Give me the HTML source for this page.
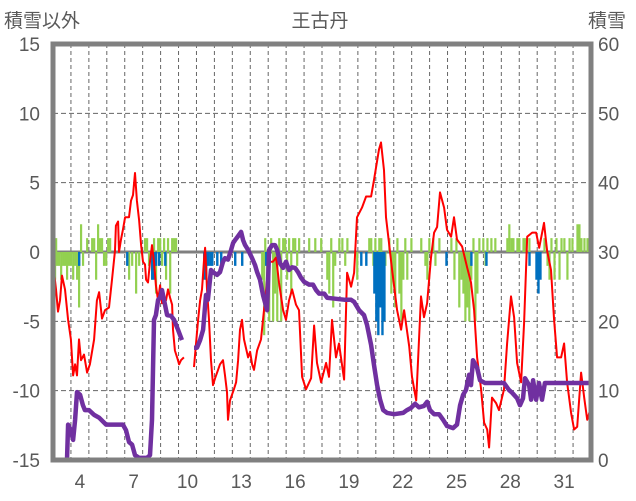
<!DOCTYPE html>
<html><head><meta charset="utf-8"><style>
html,body{margin:0;padding:0;background:#fff;}
svg{display:block;font-family:"Liberation Sans","Noto Sans CJK JP",sans-serif;}
</style></head><body>
<svg id="chart" width="636" height="501" viewBox="0 0 636 501" xmlns="http://www.w3.org/2000/svg">
<text x="320" y="27" font-size="19" fill="#595959" text-anchor="middle" font-family="Liberation Sans, Noto Sans CJK JP, sans-serif">王古丹</text>
<text x="4" y="27" font-size="19" fill="#595959" font-family="Liberation Sans, Noto Sans CJK JP, sans-serif">積雪以外</text>
<text x="588" y="27" font-size="19" fill="#595959" font-family="Liberation Sans, Noto Sans CJK JP, sans-serif">積雪</text>
<g id="grid"></g><g id="bars"></g><g id="lines"></g>
<rect x="53" y="44" width="538" height="416" fill="none" stroke="#808080" stroke-width="5"/>
<g id="labels"></g>
</svg>
<script>
const xTickDays=[4,7,10,13,16,19,22,25,28,31];
const leftTicks=[15,10,5,0,-5,-10,-15];
const rightTicks=[60,50,40,30,20,10,0];
const tempT=[3.00,3.17,3.28,3.39,3.50,3.67,3.84,4.00,4.12,4.23,4.34,4.45,4.56,4.73,4.90,5.06,5.29,5.45,5.57,5.73,5.90,6.12,6.29,6.46,6.51,6.63,6.68,6.79,6.90,7.02,7.24,7.35,7.46,7.57,7.68,7.80,7.91,8.02,8.13,8.19,8.30,8.41,8.52,8.63,8.74,8.86,8.97,9.08,9.19,9.30,9.41,9.53,9.64,9.69,9.80,9.92,10.03,10.14,10.30,10.6,10.86,10.97,11.09,11.20,11.31,11.42,11.48,11.53,11.59,11.70,11.81,11.92,12.04,12.15,12.31,12.48,12.59,12.70,12.76,12.87,13.09,13.21,13.32,13.43,13.54,13.65,13.88,13.99,14.10,14.21,14.38,14.60,14.71,14.82,14.94,15.05,15.27,15.44,15.60,15.83,15.99,16.16,16.33,16.55,16.72,16.89,17.11,17.39,17.56,17.72,17.95,18.23,18.39,18.56,18.78,18.95,19.23,19.40,19.62,19.79,19.95,20.23,20.46,20.74,20.90,21.18,21.29,21.46,21.57,21.74,21.91,22.19,22.41,22.58,22.86,23.02,23.25,23.52,23.69,23.86,24.08,24.25,24.42,24.58,24.81,24.97,25.20,25.36,25.53,25.81,26.09,26.31,26.48,26.65,26.87,27.04,27.21,27.32,27.48,27.71,27.87,28.15,28.32,28.54,28.71,28.88,29.10,29.27,29.44,29.72,29.94,30.11,30.38,30.55,30.77,30.94,31.11,31.33,31.50,31.67,31.89,32.06,32.23,32.45,32.62,32.79,32.95];
const tempV=[-0.8,-2.7,-4.3,-3.5,-1.7,-2.7,-4.9,-6.3,-8.9,-8.1,-8.9,-6.3,-7.8,-7.4,-8.7,-8.1,-6.3,-3.5,-2.9,-4.8,-4.2,-4.0,-2.0,0.1,1.9,2.2,0,0.9,1.6,2.5,2.5,3.7,4.1,5.7,3.7,2.3,0.5,-0.7,-0.9,-2.0,-2.2,-0.7,0.5,-0.7,-2.4,-3.5,-2.4,-3.7,-3.2,-3.5,-2.7,-3.3,-3.8,-5.6,-7.1,-7.6,-8.1,-7.8,-7.6,null,-8.3,-6.7,-4.9,-3.5,-2.7,-0.6,0.3,-0.9,-2.7,-4.9,-7.8,-9.6,-9.1,-8.7,-8.1,-7.8,-8.9,-10.1,-12.1,-10.7,-9.9,-9.4,-7.8,-5.6,-4.9,-6.3,-7.6,-7.2,-8.1,-8.5,-7.1,-6.3,-4.9,-3.5,-2.0,-0.7,-0.7,-0.4,-2.2,-4.2,-4.9,-3.5,-2.7,-3.8,-4.2,-9.0,-9.9,-9.1,-5.3,-8.0,-9.4,-8.0,-9.0,-4.9,-7.6,-6.6,-9.2,-1.5,-2.5,-1.5,2.5,3.2,4.0,4.0,5.2,7.4,7.9,5.9,2.5,0.6,-1.3,-4.2,-5.6,-4.2,-6.8,-9.0,-10.7,-3.2,-4.7,-3.7,-0.4,1.4,1.8,4.3,3.2,1.6,1.1,2.5,0.9,0.4,-1.1,-2.2,-4.2,-7.6,-9.9,-12.3,-12.8,-14.1,-10.5,-10.9,-11.4,-9.9,-6.6,-3.2,-4.7,-8.0,-9.4,-5.1,1.1,1.4,1.4,0.3,2.1,0.1,-1.3,-4.9,-7.6,-7.6,-6.6,-9.4,-11.6,-12.8,-12.6,-8.7,-10.5,-12.1,-11.4];
const snowT=[3.00,3.78,3.84,4.00,4.12,4.23,4.34,4.51,4.67,4.78,5.01,5.29,5.57,5.96,6.90,7.07,7.24,7.41,7.57,7.80,8.24,8.41,8.52,8.63,8.74,8.86,8.97,9.08,9.19,9.36,9.58,9.75,9.86,9.97,10.19,10.5,10.86,11.03,11.20,11.37,11.53,11.64,11.81,11.92,12.15,12.31,12.48,12.59,12.76,12.93,13.04,13.15,13.32,13.49,13.60,13.71,13.88,14.10,14.27,14.38,14.54,14.71,14.94,15.05,15.22,15.38,15.50,15.66,15.83,15.99,16.16,16.33,16.50,16.66,16.83,17.00,17.28,17.50,17.67,17.84,18.12,18.29,19.29,19.62,19.79,20.07,20.34,20.51,20.74,20.90,21.07,21.24,21.41,21.63,22.02,22.52,22.74,22.96,23.19,23.41,23.69,23.86,24.02,24.25,24.53,24.75,24.97,25.31,25.53,25.70,25.87,26.03,26.20,26.31,26.42,26.65,26.81,27.09,28.15,28.43,28.60,28.88,29.04,29.21,29.32,29.55,29.66,29.77,29.94,30.10,30.27,30.43,32.95];
const snowV=[0,0,5.1,4.3,2.9,5.8,9.8,9.4,7.9,7.2,7.2,6.5,6.1,5.1,5.1,4.3,2.6,2.2,0.7,0.3,0.3,0.7,5.8,20.2,20.9,23.1,23.4,24.5,23.1,20.9,20.8,20.2,19.5,18.8,17.3,null,16.2,16.2,17.3,18.8,23.8,23.1,27.4,27.1,26.7,27.1,28.6,29.1,28.9,30.3,31.3,31.7,32.3,32.9,31.7,31.0,30.3,29.1,28.1,27.1,26.0,23.8,21.6,30.3,31.0,31.0,30.3,28.4,27.7,28.6,27.4,27.8,27.7,27.1,26.3,25.7,25.3,25.3,24.5,24.0,24.0,23.4,23.1,23.1,22.8,21.6,20.9,19.5,16.6,13.7,10.8,8.7,7.2,6.8,6.6,6.8,7.2,7.5,8.1,7.6,7.8,8.4,7.2,6.6,6.6,5.8,4.9,4.6,5.1,7.9,9.4,10.1,12.3,10.8,14.4,13.3,11.5,11.1,11.1,10.1,9.7,8.9,7.9,8.9,11.8,10.8,8.7,11.5,8.7,11.1,8.7,11.1,11.1];
const greenT=[3.00,3.11,3.17,3.22,3.33,3.45,3.56,3.67,3.78,3.89,4.00,4.12,4.23,4.34,4.45,4.56,4.67,4.90,5.18,5.29,5.40,5.51,5.62,5.73,5.84,5.96,6.07,6.18,7.24,7.41,7.63,7.80,8.13,8.24,8.35,8.52,8.63,8.74,8.86,8.97,9.08,9.19,9.30,9.41,9.53,9.64,9.75,9.86,14.66,14.77,14.83,14.94,15.05,15.16,15.27,15.38,15.50,15.61,15.72,15.83,15.94,16.05,16.16,16.28,16.39,16.50,16.61,16.72,17.28,17.62,17.95,18.29,18.40,18.51,18.62,18.73,18.96,19.13,19.29,19.41,19.96,20.63,20.74,20.86,20.97,21.08,21.19,21.30,21.41,21.53,21.75,21.86,21.97,22.08,22.20,22.31,22.42,22.53,22.64,22.75,22.98,23.53,23.76,23.87,23.98,24.20,24.32,24.54,25.21,25.38,25.49,25.65,25.77,25.88,25.99,26.10,26.21,26.32,26.44,26.55,26.66,26.77,26.99,27.11,27.22,27.44,27.66,28.33,28.44,28.56,28.67,28.89,29.00,29.23,29.34,29.56,30.40,30.57,30.68,30.79,30.96,31.07,31.24,31.35,31.51,31.68,31.80,31.96,32.24,32.35,32.46,32.63,32.80];
const greenV=[-2,-2,1,-1,-1,-2,-1,-1,-2,-1,-1,-2,-1,-2,-4,2,-1,1,1,1,-2,2,1,1,-1,-1,1,1,-2,-1,-3,-1,1,1,-1,-2,1,-3,1,1,-1,1,-2,1,-3,1,1,1,-2,-6,1,-4,-5,1,-5,-3,-5,1,-5,1,1,-2,1,-3,1,1,-1,1,1,1,1,-2,-3,1,-4,-1,1,1,-1,1,-2,1,1,-1,1,-1,1,1,-2,-1,1,-3,-2,-4,1,-3,-5,-2,1,-2,1,1,-1,-2,1,1,-1,1,1,-2,1,-4,-2,-3,-5,-4,-5,-2,1,-5,-3,1,1,-1,1,1,1,1,2,1,1,1,1,1,1,1,1,-1,-2,1,-2,1,-2,1,1,-2,1,1,2,2,1,1,1];
const blueT=[4.45,7.13,8.52,8.63,8.74,8.91,9.25,11.42,11.53,11.64,11.76,11.87,12.15,12.37,13.15,13.54,14.88,20.18,20.46,20.91,21.02,21.13,21.24,21.36,21.47,24.93,26.32,27.16,29.56,29.95,30.06,30.17];
const blueV=[-1,-1,-2,-2,-1,-1,-1,-2,-2,-1,-1,-1,-1,-1,-1,-1,-1,-1,-1,-3,-5,-6,-4,-6,-5,-1,-1,-1,-1,-2,-3,-2];

const NS="http://www.w3.org/2000/svg";
const PL=53,PR=591,PT=44,PB=460,T0=3,T1=33;
function xs(t){return PL+(t-T0)/(T1-T0)*(PR-PL);}
function yl(v){return PB-(v+15)/30*(PB-PT);}
function yr(v){return PB-v/60*(PB-PT);}
function mk(tag,attrs,parent){const e=document.createElementNS(NS,tag);for(const k in attrs)e.setAttribute(k,attrs[k]);parent.appendChild(e);return e;}
const grid=document.getElementById('grid'),bars=document.getElementById('bars'),lines=document.getElementById('lines'),labels=document.getElementById('labels');
for(let d=T0+1;d<T1;d++){
  const g=mk('line',{x1:xs(d),x2:xs(d),y1:PT,y2:PB,stroke:'#666666','stroke-width':1,'stroke-dasharray':'4,3'},grid);
  
  
}
leftTicks.forEach(v=>{
  if(v!==0&&v!==15&&v!==-15){
    const g=mk('line',{x1:PL,x2:PR,y1:yl(v),y2:yl(v),stroke:'#666666','stroke-width':1,'stroke-dasharray':'5,3'},grid);
    
    
  }
  const t=mk('text',{x:40,y:yl(v)+7,'font-size':19,fill:'#595959','text-anchor':'end'},labels);
  t.textContent=v;
  
  
});
rightTicks.forEach(v=>{
  const t=mk('text',{x:598,y:yr(v)+7,'font-size':19,fill:'#595959'},labels);
  t.textContent=v;
  
  
});
xTickDays.forEach(d=>{
  const t=mk('text',{x:xs(d+0.5),y:488,'font-size':19,fill:'#595959','text-anchor':'middle'},labels);
  t.textContent=d;
  
  
});
const zl=mk('line',{x1:PL,x2:PR,y1:yl(0),y2:yl(0),stroke:'#808080','stroke-width':3},grid);


greenT.forEach((t,i)=>{
  const v=greenV[i],y0=yl(0),y1=yl(v);
  const r=mk('rect',{x:xs(t)-1,y:Math.min(y0,y1),width:2.2,height:Math.abs(y1-y0),fill:'#92D050'},bars);
  
  
});
blueT.forEach((t,i)=>{
  const v=blueV[i],y0=yl(0),y1=yl(v);
  const r=mk('rect',{x:xs(t)-1,y:Math.min(y0,y1),width:2.4,height:Math.abs(y1-y0),fill:'#0070C0'},bars);
  
  
});
function pathD(T,V,yf){let d='',pen=false;T.forEach((t,i)=>{const v=V[i];if(v===null){pen=false;return;}d+=(pen?'L':'M')+xs(t).toFixed(1)+','+yf(v).toFixed(1);pen=true;});return d;}
const red=mk('path',{d:pathD(tempT,tempV,yl),fill:'none',stroke:'#FF0000','stroke-width':2,'stroke-linejoin':'round'},lines);


const pur=mk('path',{d:pathD(snowT,snowV,yr),fill:'none',stroke:'#7030A0','stroke-width':4.5,'stroke-linejoin':'round'},lines);


</script>
</body></html>
